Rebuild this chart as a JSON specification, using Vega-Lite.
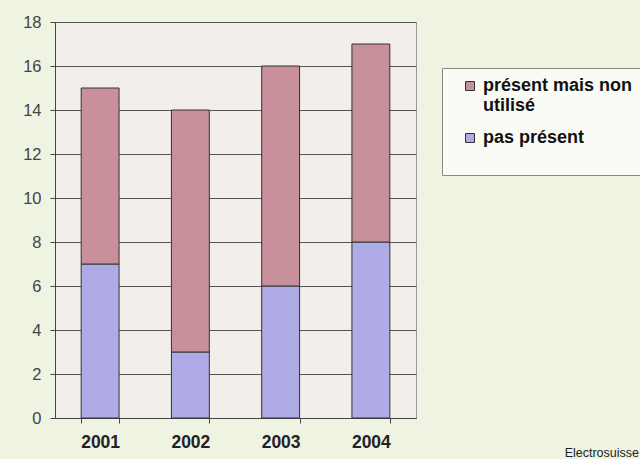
{
  "$schema": "https://vega.github.io/schema/vega-lite/v6.json",
  "autosize": "none",
  "width": 361,
  "height": 396,
  "padding": {"left": 55, "top": 22, "right": 224, "bottom": 41},
  "background": "#eff3e2",
  "title": {
    "text": "Electrosuisse",
    "orient": "bottom",
    "anchor": "end",
    "frame": "group",
    "dx": 223,
    "offset": -4,
    "font": "Liberation Sans",
    "fontSize": 12.5,
    "fontWeight": "normal",
    "color": "#222222"
  },
  "data": {
    "values": [
      {"annee": "2001", "statut": "pas présent", "nombre": 7},
      {"annee": "2001", "statut": "présent mais non utilisé", "nombre": 8},
      {"annee": "2002", "statut": "pas présent", "nombre": 3},
      {"annee": "2002", "statut": "présent mais non utilisé", "nombre": 11},
      {"annee": "2003", "statut": "pas présent", "nombre": 6},
      {"annee": "2003", "statut": "présent mais non utilisé", "nombre": 10},
      {"annee": "2004", "statut": "pas présent", "nombre": 8},
      {"annee": "2004", "statut": "présent mais non utilisé", "nombre": 9}
    ]
  },
  "mark": {"type": "bar", "stroke": "#333333", "strokeWidth": 1},
  "encoding": {
    "x": {
      "field": "annee",
      "type": "nominal",
      "scale": {"paddingInner": 0.58, "paddingOuter": 0.29},
      "axis": {
        "title": null,
        "labelAngle": 0,
        "tickBand": "extent",
        "tickSize": 5,
        "tickColor": "#444444",
        "domainColor": "#444444",
        "labelFont": "Liberation Sans",
        "labelFontSize": 17.5,
        "labelFontWeight": "bold",
        "labelColor": "#222222",
        "labelPadding": 10
      }
    },
    "y": {
      "field": "nombre",
      "type": "quantitative",
      "aggregate": "sum",
      "scale": {"domain": [0, 18]},
      "axis": {
        "title": null,
        "values": [0, 2, 4, 6, 8, 10, 12, 14, 16, 18],
        "grid": true,
        "gridColor": "#555555",
        "gridOpacity": 1,
        "tickSize": 5,
        "tickColor": "#444444",
        "domainColor": "#444444",
        "labelFont": "Liberation Sans",
        "labelFontSize": 16.5,
        "labelColor": "#444444",
        "labelPadding": 9
      }
    },
    "color": {
      "field": "statut",
      "type": "nominal",
      "scale": {
        "domain": ["présent mais non utilisé", "pas présent"],
        "range": ["#c8909b", "#afabe6"]
      },
      "legend": {
        "title": " ",
        "titleOrient": "bottom",
        "titleFontSize": 12,
        "titlePadding": 8,
        "orient": "none",
        "legendX": 387,
        "legendY": 46,
        "padding": 9,
        "fillColor": "#fbfbf6",
        "strokeColor": "#8a8a80",
        "symbolType": "square",
        "symbolSize": 81,
        "symbolOffset": 10,
        "symbolStrokeColor": "#333333",
        "symbolStrokeWidth": 1,
        "symbolOpacity": 1,
        "labelFont": "Liberation Sans",
        "labelFontSize": 18,
        "labelFontWeight": "bold",
        "labelColor": "#111111",
        "labelLimit": 220,
        "labelOffset": 4,
        "rowPadding": 14,
        "labelExpr": "datum.label == 'présent mais non utilisé' ? ['présent mais non', 'utilisé'] : datum.label"
      }
    },
    "order": {"field": "statut", "sort": "ascending"}
  },
  "config": {
    "view": {"fill": "#f2eeea", "stroke": "#9a9a9a", "strokeWidth": 1}
  }
}
